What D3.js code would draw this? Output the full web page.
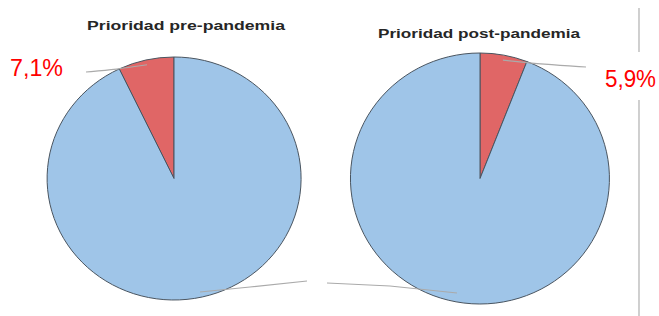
<!DOCTYPE html>
<html>
<head>
<meta charset="utf-8">
<script src="https://cdn.jsdelivr.net/npm/d3@7"></script>
<style>
  body { margin: 0; background: #fff; }
  svg { display: block; }
</style>
</head>
<body>
<div id="chart"></div>
<script>
// data
const titles = ['Prioridad pre-pandemia', 'Prioridad post-pandemia'];
const categories = ['Prioridad', 'Resto'];
const preValues = [7.1, 92.9];
const postValues = [5.9, 94.1];
const labels = ['7,1%', '5,9%'];

const width = 659, height = 316;

const svg = d3.select('#chart').append('svg')
  .attr('width', width)
  .attr('height', height);

const color = d3.scaleOrdinal()
  .domain(categories)
  .range(['#e06666', '#9fc5e8']);

// left pie goes counter clockwise (red slice left of 12 o'clock), right one clockwise
const pies = [
  {values: preValues, cx: 174, cy: 178.5, rx: 127, ry: 121.5, dir: -1,
   title: {x: 186, y: 30, len: 198}, label: {x: 10, y: 76, len: 53}, leadEnd: [86, 72]},
  {values: postValues, cx: 480, cy: 178.5, rx: 129.5, ry: 125.5, dir: 1,
   title: {x: 479, y: 38, len: 202}, label: {x: 605, y: 87, len: 51}, leadEnd: [586, 67]}
];

const arc = d3.arc().innerRadius(0).outerRadius(1);

pies.forEach((p, i) => {
  const pie = d3.pie()
    .sort(null)
    .value(d => d.v)
    .startAngle(0)
    .endAngle(p.dir * 2 * Math.PI);

  const slices = pie(categories.map((c, j) => ({c, v: p.values[j]})));

  const g = svg.append('g')
    .attr('transform', `translate(${p.cx},${p.cy}) scale(${p.rx},${p.ry})`);

  g.selectAll('path')
    .data(slices)
    .enter()
    .append('path')
    .attr('d', arc)
    .attr('fill', d => color(d.data.c))
    .attr('stroke', '#4a5560')
    .attr('stroke-width', 1)
    .attr('vector-effect', 'non-scaling-stroke');

  // title
  svg.append('text')
    .attr('x', p.title.x)
    .attr('y', p.title.y)
    .attr('text-anchor', 'middle')
    .attr('font-family', 'Liberation Sans, Arial, sans-serif')
    .attr('font-weight', 'bold')
    .attr('font-size', 13)
    .attr('fill', '#262626')
    .attr('textLength', p.title.len)
    .attr('lengthAdjust', 'spacingAndGlyphs')
    .text(titles[i]);

  // leader line from the red slice to its label
  const red = slices[0];
  const mid = (red.startAngle + red.endAngle) / 2;
  const px = p.cx + p.rx * 0.96 * Math.sin(mid);
  const py = p.cy - p.ry * 0.96 * Math.cos(mid);
  svg.append('path')
    .attr('d', d3.line().curve(d3.curveBasis)([
      [px, py],
      [(px + p.leadEnd[0]) / 2, (py + p.leadEnd[1]) / 2 + 1],
      p.leadEnd
    ]))
    .attr('fill', 'none')
    .attr('stroke', '#aaa')
    .attr('stroke-width', 1.2);

  svg.append('text')
    .attr('x', p.label.x)
    .attr('y', p.label.y)
    .attr('font-family', 'Liberation Sans, Arial, sans-serif')
    .attr('font-size', 24)
    .attr('fill', '#ff0000')
    .attr('textLength', p.label.len)
    .attr('lengthAdjust', 'spacingAndGlyphs')
    .text(labels[i]);
});

// stray connector lines near the bottom of the two pies
svg.append('path')
  .attr('d', 'M200,292 L250,287 L307,281')
  .attr('fill', 'none')
  .attr('stroke', '#aaa')
  .attr('stroke-width', 1.2);
svg.append('path')
  .attr('d', 'M327,283 L390,286 L457,293')
  .attr('fill', 'none')
  .attr('stroke', '#aaa')
  .attr('stroke-width', 1.2);

// vertical divider on the right, broken around the label
svg.append('line')
  .attr('x1', 639).attr('x2', 639)
  .attr('y1', 8).attr('y2', 52)
  .attr('stroke', '#b0b0b0')
  .attr('stroke-width', 1.2);
svg.append('line')
  .attr('x1', 639).attr('x2', 639)
  .attr('y1', 100).attr('y2', 316)
  .attr('stroke', '#b0b0b0')
  .attr('stroke-width', 1.2);
</script>
</body>
</html>
